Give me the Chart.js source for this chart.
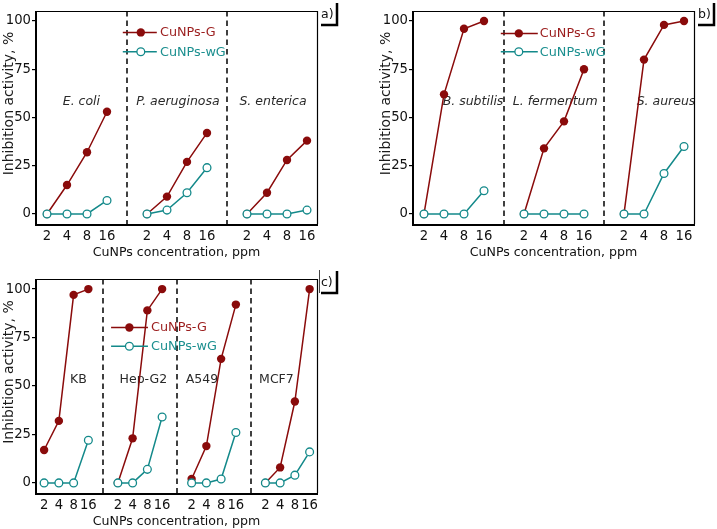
<!DOCTYPE html>
<html><head><meta charset="utf-8">
<script src="https://cdn.jsdelivr.net/npm/chart.js@4.4.1/dist/chart.umd.min.js"></script>
<style>
html,body{margin:0;padding:0;background:#fff;width:717px;height:529px;overflow:hidden;position:relative}
canvas{position:absolute}
</style></head>
<body>
<canvas id="ca" width="360" height="265" style="left:0px;top:0px"></canvas>
<canvas id="cb" width="340" height="265" style="left:377px;top:0px"></canvas>
<canvas id="cc" width="360" height="260" style="left:0px;top:269px"></canvas>
<script>
// ---- data ----
const concLabels = ['2', '4', '8', '16'];
const yTicks = [0, 25, 50, 75, 100];
const seriesNames = ['CuNPs-G', 'CuNPs-wG'];

const groupsA = ['E. coli', 'P. aeruginosa', 'S. enterica'];
const gA  = [[0, 15, 32, 53], [0, 9, 27, 42], [0, 11, 28, 38]];
const wgA = [[0, 0, 0, 7], [0, 2, 11, 24], [0, 0, 0, 2]];

const groupsB = ['B. subtilis', 'L. fermentum', 'S. aureus'];
const gB  = [[0, 62, 96, 100], [0, 34, 48, 75], [0, 80, 98, 100]];
const wgB = [[0, 0, 0, 12], [0, 0, 0, 0], [0, 0, 21, 35]];

const groupsC = ['KB', 'Hep-G2', 'A549', 'MCF7'];
const gC  = [[17, 32, 97, 100], [0, 23, 89, 100], [2, 19, 64, 92], [0, 8, 42, 100]];
const wgC = [[0, 0, 0, 22], [0, 0, 7, 34], [0, 0, 2, 26], [0, 0, 4, 16]];

// ---- styles ----
const RED = '#8a0b0b', TEAL = '#13898a';
const RED_TXT = '#9b1d1d', TEAL_TXT = '#1b8f8f';
const FONT = 'DejaVu Sans';

function toPoints(groups) {
  const pts = [];
  groups.forEach((vals, g) => {
    if (g > 0) pts.push({x: g * 5 - 1, y: null});
    vals.forEach((v, i) => pts.push({x: g * 5 + i, y: v}));
  });
  return pts;
}

const decor = {
  id: 'decor',
  beforeDatasetsDraw(chart) {
    const {ctx, chartArea: ca, scales: {x, y}} = chart;
    const o = chart.options.plugins.decor;
    ctx.save();
    ctx.strokeStyle = '#111';
    ctx.lineWidth = 1.6;
    ctx.setLineDash([5.5, 4]);
    for (let g = 1; g < o.groups.length; g++) {
      const px = Math.round(x.getPixelForValue(g * 5 - 1));
      ctx.beginPath(); ctx.moveTo(px, ca.top); ctx.lineTo(px, ca.bottom); ctx.stroke();
    }
    ctx.setLineDash([]);
    ctx.fillStyle = '#2a2a2a';
    ctx.font = (o.italic ? 'italic ' : '') + '12.5px "' + FONT + '"';
    ctx.textAlign = 'center'; ctx.textBaseline = 'middle';
    o.groups.forEach((t, g) => {
      ctx.fillText(t, x.getPixelForValue(o.labelX[g]), y.getPixelForValue(o.labelY));
    });
    ctx.restore();
  },
  afterDraw(chart) {
    const {ctx, chartArea: ca, scales: {x, y}} = chart;
    const o = chart.options.plugins.decor;
    ctx.save();
    // frame
    ctx.strokeStyle = '#000';
    ctx.lineWidth = 1.2;
    ctx.beginPath();
    ctx.moveTo(ca.left, ca.top + 0.5); ctx.lineTo(ca.right + 0.5, ca.top + 0.5); ctx.lineTo(ca.right + 0.5, ca.bottom);
    ctx.stroke();
    ctx.lineWidth = 2;
    ctx.beginPath();
    ctx.moveTo(ca.left, ca.top); ctx.lineTo(ca.left, ca.bottom + 1); ctx.lineTo(ca.right + 1, ca.bottom + 1);
    ctx.stroke();
    // legend
    const L = o.legend;
    const rows = [
      {name: seriesNames[0], c: RED, tc: RED_TXT, filled: true, v: L.y[0]},
      {name: seriesNames[1], c: TEAL, tc: TEAL_TXT, filled: false, v: L.y[1]}
    ];
    ctx.font = '12.8px "' + FONT + '"';
    ctx.textAlign = 'left'; ctx.textBaseline = 'middle';
    rows.forEach(r => {
      const py = y.getPixelForValue(r.v);
      const x0 = x.getPixelForValue(L.x0), x1 = x.getPixelForValue(L.x1), xm = x.getPixelForValue(L.xm);
      ctx.strokeStyle = r.c; ctx.lineWidth = 1.5;
      ctx.beginPath(); ctx.moveTo(x0, py); ctx.lineTo(x1, py); ctx.stroke();
      ctx.beginPath(); ctx.arc(xm, py, r.filled ? 4.2 : 3.9, 0, Math.PI * 2);
      if (r.filled) { ctx.fillStyle = r.c; ctx.fill(); }
      else { ctx.fillStyle = '#fff'; ctx.fill(); ctx.lineWidth = 1.3; ctx.stroke(); }
      ctx.fillStyle = r.tc;
      ctx.fillText(r.name, x.getPixelForValue(L.xt), py + 0.5);
    });
    // y title
    ctx.fillStyle = '#1a1a1a';
    ctx.font = '14px "' + FONT + '"';
    ctx.textAlign = 'center'; ctx.textBaseline = 'middle';
    ctx.translate(9, (ca.top + ca.bottom) / 2 - 14);
    ctx.rotate(-Math.PI / 2);
    ctx.fillText('Inhibition activity, %', 0, 0);
    ctx.setTransform(1, 0, 0, 1, 0, 0);
    // panel tag
    const R = ca.right, T = ca.top;
    ctx.fillStyle = '#111';
    ctx.font = '12.5px "' + FONT + '"';
    ctx.textAlign = 'left';
    ctx.fillText(o.tag, R + 4, T + 4);
    if (o.tagLeft) {
      ctx.strokeStyle = '#444'; ctx.lineWidth = 1;
      ctx.beginPath(); ctx.moveTo(R + 2.5, T - 9); ctx.lineTo(R + 2.5, T + 14); ctx.stroke();
    }
    ctx.strokeStyle = '#000'; ctx.lineWidth = 2.5;
    ctx.beginPath(); ctx.moveTo(R + 20, T - 8); ctx.lineTo(R + 20, T + 14); ctx.lineTo(R + 4, T + 14); ctx.stroke();
    ctx.restore();
  }
};

function makeChart(id, groups, gVals, wgVals, opts) {
  const nG = groups.length;
  const xTickPos = [];
  for (let g = 0; g < nG; g++) for (let i = 0; i < 4; i++) xTickPos.push(g * 5 + i);
  return new Chart(document.getElementById(id), {
    type: 'line',
    data: {
      datasets: [
        {label: seriesNames[1], data: toPoints(wgVals), borderColor: TEAL, backgroundColor: '#fff',
         borderWidth: 1.5, pointRadius: 3.9, pointBorderWidth: 1.3, pointBackgroundColor: '#fff',
         pointBorderColor: TEAL, spanGaps: false, order: 0},
        {label: seriesNames[0], data: toPoints(gVals), borderColor: RED, backgroundColor: RED,
         borderWidth: 1.5, pointRadius: 4.2, pointBorderWidth: 0, pointBackgroundColor: RED,
         spanGaps: false, order: 1}
      ]
    },
    options: {
      responsive: false, animation: false, devicePixelRatio: 1,
      layout: {padding: opts.padding},
      events: [],
      plugins: {
        legend: {display: false}, tooltip: {enabled: false},
        decor: opts.decor
      },
      scales: {
        x: {
          type: 'linear', min: -0.55, max: nG * 5 - 1.5,
          afterBuildTicks: s => { s.ticks = xTickPos.map(v => ({value: v})); },
          afterFit: s => { s.height = 36; },
          grid: {display: false, drawTicks: false},
          border: {display: false},
          ticks: {
            padding: 5, autoSkip: false, maxRotation: 0, color: '#111',
            font: {family: FONT, size: 13.2},
            callback: (v, i) => concLabels[i % 4]
          },
          title: {display: true, text: 'CuNPs concentration, ppm', color: '#111', padding: 0,
                  font: {family: FONT, size: 12.6}}
        },
        y: {
          type: 'linear', min: -5.2, max: 105.2,
          afterBuildTicks: s => { s.ticks = yTicks.map(v => ({value: v})); },
          afterFit: s => { s.width = 36; },
          grid: {display: true, drawOnChartArea: false, drawTicks: true, tickLength: 4, color: '#000', lineWidth: 1.2},
          border: {display: false},
          ticks: {padding: 1, color: '#111', font: {family: FONT, size: 13.2}}
        }
      }
    },
    plugins: [decor]
  });
}

makeChart('ca', groupsA, gA, wgA, {
  padding: {left: 0, top: 11, right: 43, bottom: 5},
  decor: {groups: groupsA, italic: true, labelX: [1.72, 6.55, 11.3], labelY: 58, tag: 'a)', tagLeft: false,
          legend: {x0: 3.79, x1: 5.49, xm: 4.69, xt: 5.65, y: [94.1, 84.1]}}
});
makeChart('cb', groupsB, gB, wgB, {
  padding: {left: 0, top: 11, right: 23, bottom: 5},
  decor: {groups: groupsB, italic: true, labelX: [2.45, 6.56, 12.1], labelY: 58, tag: 'b)', tagLeft: false,
          legend: {x0: 3.84, x1: 5.69, xm: 4.74, xt: 5.79, y: [93.6, 84.1]}}
});
makeChart('cc', groupsC, gC, wgC, {
  padding: {left: 0, top: 10, right: 43, bottom: 0},
  decor: {groups: groupsC, italic: false, labelX: [2.33, 6.73, 10.7, 15.75], labelY: 53, tag: 'c)', tagLeft: true,
          legend: {x0: 4.54, x1: 7.04, xm: 5.78, xt: 7.25, y: [80.2, 70.5]}}
});
</script>
</body></html>
